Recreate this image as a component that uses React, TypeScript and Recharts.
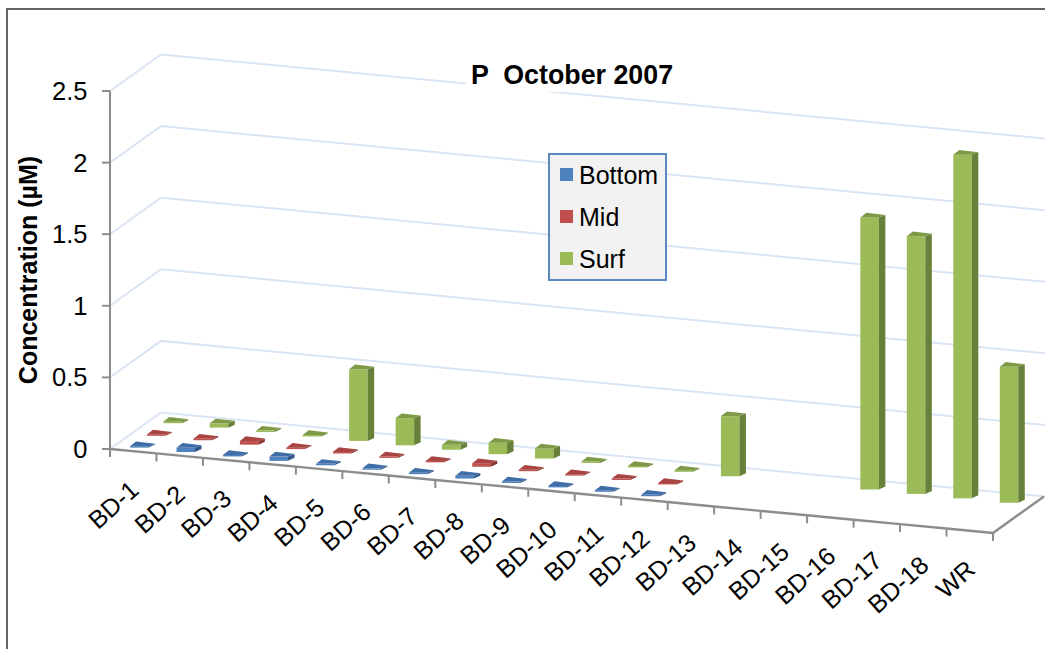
import React from "react";
import { BarChart, Bar, XAxis, YAxis, Legend, CartesianGrid } from "recharts";

const categories = ["BD-1","BD-2","BD-3","BD-4","BD-5","BD-6","BD-7","BD-8","BD-9","BD-10","BD-11","BD-12","BD-13","BD-14","BD-15","BD-16","BD-17","BD-18","WR"];
const bottomValues = [0.01,0.03,0.01,0.03,0.01,0.01,0.01,0.02,0.01,0.01,0.01,0.01,null,null,null,null,null,null,null];
const midValues = [0.01,0.01,0.025,0.01,0.01,0.01,0.01,0.025,0.01,0.01,0.01,0.01,null,null,null,null,null,null,null];
const surfValues = [0.01,0.03,0.01,0.01,0.5,0.19,0.035,0.08,0.07,0.01,0.01,0.01,0.42,null,null,1.9,1.8,2.4,0.95];
const yTicks = [0,0.5,1,1.5,2,2.5];
const rows = categories.map((name,i)=>({name,Bottom:bottomValues[i],Mid:midValues[i],Surf:surfValues[i]}));

const FONT = "'Liberation Sans', Arial, sans-serif";
const AXIS_X = 110, BASE_Y = 449, SLOPE = 0.0951, WALL_DX = 51, WALL_DY = -36.5, RIGHT_X = 1045;
const GRID = "#dae5f3", AXIS = "#8c8c8c";

const GridLine = (p:any) => {
  const y = p.y1;
  const bx = AXIS_X + WALL_DX, by = y + WALL_DY;
  const ex = RIGHT_X, ey = by + (ex-bx)*SLOPE;
  return <polyline key={p.key ?? y} points={`${AXIS_X},${y} ${bx},${by} ${ex},${ey}`} fill="none" stroke={GRID} strokeWidth={2}/>;
};

const YTick = (p:any) => {
  const y = p.y, v = p.payload.value;
  return <g>
    <line x1={AXIS_X-8} x2={AXIS_X} y1={y} y2={y} stroke={AXIS} strokeWidth={2}/>
    <text x={87.5} y={y+9} textAnchor="end" fontFamily={FONT} fontSize={25.5} fill="#000">{String(v)}</text>
  </g>;
};

const XTick = (p:any) => {
  const cx = p.x, i = p.index, step = 883/categories.length;
  const yAt = (x:number)=>BASE_Y+(x-AXIS_X)*SLOPE;
  const l = cx-step/2, r = cx+step/2;
  return <g>
    <line x1={l} y1={yAt(l)} x2={r} y2={yAt(r)} stroke={AXIS} strokeWidth={2.4}/>
    <line x1={l} y1={yAt(l)} x2={l} y2={yAt(l)+8} stroke={AXIS} strokeWidth={2}/>
    {i===categories.length-1 && <g>
      <line x1={r} y1={yAt(r)} x2={r} y2={yAt(r)+8} stroke={AXIS} strokeWidth={2}/>
      <line x1={r} y1={yAt(r)} x2={r+WALL_DX} y2={yAt(r)+WALL_DY} stroke={AXIS} strokeWidth={2.4}/>
    </g>}
    <text transform={`translate(${cx+7},${yAt(cx)+41}) rotate(-42)`} textAnchor="end" fontFamily={FONT} fontSize={25} fill="#000">{p.payload.value}</text>
  </g>;
};

const bar3D = (dx:number, dy:number, top:string, side:string) => (p:any) => {
  if (!(p.height>0)) return null;
  const cx = p.x+p.width/2, w = p.width;
  const fx = cx+dx, by = p.y+p.height+(cx-AXIS_X)*SLOPE+dy, ty = by-p.height;
  return <g>
    <rect x={fx} y={ty} width={w} height={p.height} fill={p.fill}/>
    <polygon points={`${fx},${ty} ${fx+w},${ty} ${fx+w+6.5},${ty-2.5} ${fx+6},${ty-4.7}`} fill={top}/>
    <polygon points={`${fx+w},${ty} ${fx+w+6.5},${ty-2.5} ${fx+w+6.5},${by-3} ${fx+w},${by}`} fill={side}/>
  </g>;
};

const LegendBox = (p:any) => (
  <div style={{width:119,height:128,boxSizing:"border-box",background:"#f2f2f2",border:"2px solid #5b88c0",position:"relative",fontFamily:FONT,fontSize:25,color:"#000"}}>
    {(p.payload||[]).map((e:any,i:number)=>(
      <div key={e.value} style={{position:"absolute",left:0,top:5+i*42,height:32,width:"100%"}}>
        <span style={{position:"absolute",left:10,top:8,width:13,height:13,background:e.color}}/>
        <span style={{position:"absolute",left:29,top:0,lineHeight:"30px"}}>{e.value}</span>
      </div>
    ))}
  </div>
);

export default function App(){
  return <div style={{position:"fixed",left:0,top:0,width:1045,height:649,overflow:"hidden",background:"#fff"}}>
    <BarChart width={1045} height={649} data={rows} margin={{top:91,right:52,bottom:0,left:0}} barSize={18.5} barGap={-18.5}>
      <CartesianGrid vertical={false} horizontal={GridLine} syncWithTicks/>
      <XAxis dataKey="name" height={200} interval={0} tick={XTick} tickLine={false} axisLine={false}/>
      <YAxis width={110} domain={[0,2.5]} ticks={yTicks} tick={YTick} tickLine={false} axisLine={{stroke:AXIS,strokeWidth:2}}
        label={{value:"Concentration (µM)",angle:-90,position:"insideLeft",offset:28,style:{fontFamily:FONT,fontSize:25,fontWeight:700,fill:"#000",textAnchor:"middle"}}}/>
      <Legend layout="horizontal" verticalAlign="middle" align="center" content={LegendBox} wrapperStyle={{left:548,top:153,width:119,height:128}}/>
      <Bar dataKey="Bottom" fill="#4f81bd" isAnimationActive={false} shape={bar3D(-3.2,-3.6,"#3f6ea8","#33588a")}/>
      <Bar dataKey="Mid" fill="#c0504d" isAnimationActive={false} shape={bar3D(13.7,-15.4,"#a84441","#8a3633")}/>
      <Bar dataKey="Surf" fill="#9bbb59" isAnimationActive={false} shape={bar3D(30,-28,"#7e9a47","#68803a")}/>
    </BarChart>
    <div style={{position:"absolute",left:466,top:58,width:214,height:34,background:"#fff",fontFamily:FONT,fontWeight:700,fontSize:26.8,color:"#000",lineHeight:"34px",whiteSpace:"pre",paddingLeft:5,boxSizing:"border-box"}}>P  October 2007</div>
    <div style={{position:"absolute",left:6,top:8,width:1100,height:700,borderLeft:"2px solid #666",borderTop:"2px solid #666",pointerEvents:"none"}}/>
  </div>;
}
